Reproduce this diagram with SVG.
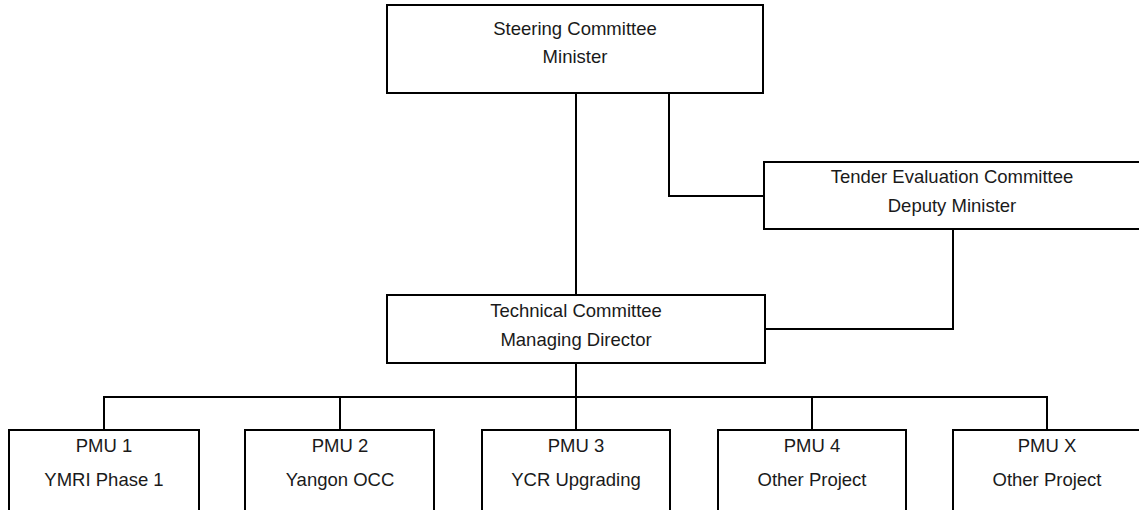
<svg xmlns="http://www.w3.org/2000/svg" width="1139" height="510" viewBox="0 0 1139 510">
<style>
.box{fill:#fff;stroke:#000;stroke-width:2}
.ln{fill:none;stroke:#000;stroke-width:2}
text{font-family:"Liberation Sans",Arial,sans-serif;font-size:18.5px;fill:#1a1a1a;text-anchor:middle}
</style>
<rect width="1139" height="510" fill="#fff"/>
<g id="connectors">
<path class="ln" d="M576,93 V295"/>
<path class="ln" d="M669,93 V196 H764"/>
<path class="ln" d="M953,229 V329 H765"/>
<path class="ln" d="M576,363 V430"/>
<path class="ln" d="M104,430 V397 H1047 V430"/>
<path class="ln" d="M340,397 V430"/>
<path class="ln" d="M812,397 V430"/>
</g>
<g id="steering">
<rect class="box" x="387" y="5" width="376" height="88"/>
<text x="575" y="35">Steering Committee</text>
<text x="575" y="63">Minister</text>
</g>
<g id="tender">
<rect class="box" x="764" y="162" width="390" height="67"/>
<text x="952" y="183">Tender Evaluation Committee</text>
<text x="952" y="212">Deputy Minister</text>
</g>
<g id="technical">
<rect class="box" x="387" y="295" width="378" height="68"/>
<text x="576" y="317">Technical Committee</text>
<text x="576" y="346">Managing Director</text>
</g>
<g id="pmu1">
<rect class="box" x="9" y="430" width="190" height="100"/>
<text x="104" y="452">PMU 1</text>
<text x="104" y="486">YMRI Phase 1</text>
</g>
<g id="pmu2">
<rect class="box" x="245" y="430" width="189" height="100"/>
<text x="340" y="452">PMU 2</text>
<text x="340" y="486">Yangon OCC</text>
</g>
<g id="pmu3">
<rect class="box" x="482" y="430" width="188" height="100"/>
<text x="576" y="452">PMU 3</text>
<text x="576" y="486">YCR Upgrading</text>
</g>
<g id="pmu4">
<rect class="box" x="718" y="430" width="188" height="100"/>
<text x="812" y="452">PMU 4</text>
<text x="812" y="486">Other Project</text>
</g>
<g id="pmux">
<rect class="box" x="953" y="430" width="190" height="100"/>
<text x="1047" y="452">PMU X</text>
<text x="1047" y="486">Other Project</text>
</g>
</svg>
